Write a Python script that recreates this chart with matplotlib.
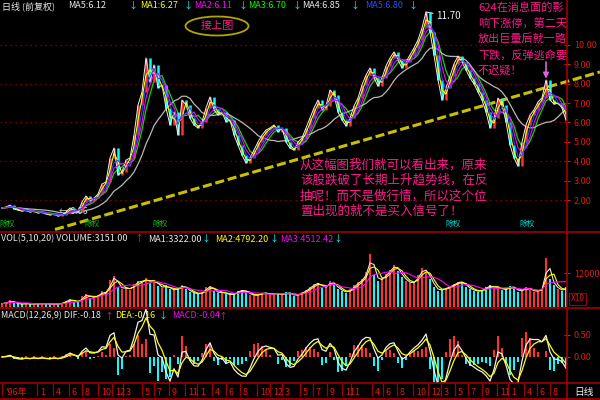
import numpy as np
import pandas as pd
import matplotlib
matplotlib.use("Agg")
import matplotlib.pyplot as plt
from matplotlib.patches import Ellipse
from matplotlib.lines import Line2D

plt.rcParams['font.family'] = ['Noto Sans CJK SC', 'DejaVu Sans']
plt.rcParams['axes.unicode_minus'] = False

# ---- data ----
close = [1.59, 1.64, 1.74, 1.54, 1.48, 1.43, 1.48, 1.38, 1.43, 1.33,
         1.38, 1.28, 1.23, 1.28, 1.17, 1.23, 1.38, 1.59, 1.48, 1.38,
         1.90, 2.21, 1.95, 2.10, 2.31, 2.83, 2.93, 4.17, 4.68, 3.29,
         3.45, 4.06, 4.17, 5.35, 6.90, 7.57, 9.33, 8.09, 8.97, 7.78,
         7.94, 6.75, 5.87, 6.54, 5.35, 7.16, 6.90, 6.23, 5.87, 5.72,
         6.03, 6.75, 7.32, 6.65, 6.39, 6.54, 6.03, 6.13, 5.35, 4.84,
         4.32, 3.91, 4.17, 4.58, 4.99, 5.35, 5.61, 5.72, 5.87, 5.51,
         5.72, 4.99, 4.68, 4.58, 4.99, 5.20, 5.72, 6.23, 6.75, 7.16,
         6.65, 6.85, 7.68, 7.42, 6.54, 6.13, 5.82, 6.23,
         6.85, 7.26, 7.94, 8.45, 8.81, 8.30, 7.88, 8.30, 8.92, 9.33,
         9.64, 9.23, 8.81, 9.12, 9.48, 9.85, 10.26, 10.88, 11.70, 10.67,
         9.48, 8.19, 7.16, 7.78, 8.40, 9.02, 9.43, 9.12, 8.71, 8.30,
         7.99, 7.57, 7.16, 6.54, 5.72, 6.23, 7.26, 6.90, 6.03, 4.84,
         4.17, 3.75, 4.99, 5.87, 6.39, 6.65, 7.06, 7.27, 8.19, 7.16,
         6.95, 7.00, 6.75, 6.13]

volume = [1200, 1500, 2400, 1300, 1100, 1000, 1400, 900, 1200, 1000, 1300, 1100, 900, 1200, 1000, 1500, 2200, 2800,
          1800, 1600, 3800, 4500, 3200, 3600, 4200, 5500, 4800,
          9500, 10800, 7200, 6400, 6900, 6100, 8200, 9300, 8800,
          10200, 8400, 9600, 7300, 6800, 7600, 6200, 5900, 6700, 7800,
          6300, 5400, 4800, 4500, 5200, 6900, 7400, 5600, 4900, 5300, 4600,
          4200, 4800, 5600, 6100, 5200, 4400, 3900, 4500, 5100, 4800, 4300, 5000, 4600, 4100, 5300, 4700, 3900, 4400, 5200,
          6000, 7200, 8100, 8600, 6700, 7300, 9200, 7800, 6400, 5600, 5100, 6200, 7600, 8800, 9800,
          12500, 18600, 11400, 9200, 10100, 11800, 13200, 14900, 12800,
          10600, 9200, 8300, 8900, 11200, 13600, 12400, 9800, 6900, 5800, 6200,
          6800, 7400, 8100, 9000, 8700, 7200, 6300, 5800, 5400, 6100, 6900,
          7800, 6600, 7100, 5900, 6400, 7300, 6800, 5200, 6300, 6900, 6100, 5400, 5800, 6500,
          17400, 9800, 7600, 6200, 5800, 6900]

trend_idx = [13.25, 149.5]
trend_price = [0.48, 8.61]

price_ticks = [2, 3, 4, 5, 6, 7, 8, 9, 10]
grid_prices = [2, 4, 6, 8, 10]
vol_ticks = [12000]
macd_ticks = [0.0, 0.5]

month_labels = ["'96年", '1', '4', '6', '8', '10', '12', '3', '5', '7', '9', '11',
                '1', '4', '6', '8', '10', '12', '3', '5', '7', '9', '11',
                '1', '4', '6', '8', '10', '12', '3', '5', '7', '9', '11',
                '1', '4', '6', '8']
month_pos = [0, 8.75, 12.75, 16.75, 20, 24, 27.5, 30.25, 35, 38, 41.75, 45.75,
             48.75, 52.5, 56, 59.5, 63.75, 67, 70, 74.5, 77.75, 81.25, 85,
             87.25, 92.5, 95.25, 98.75, 102.75, 106.5, 109.75, 113.25, 116.5, 120, 123.75,
             126.5, 130.5, 133.75, 137]

event_idx = [1.25, 22.5, 39.5, 112.75, 131.25]
event_colors = ['#10c010', '#10c010', '#10c010', '#00d8d8', '#00d8d8']

ma_windows = [2, 4, 5, 12, 3]
ma_colors = ['#ffff00', '#ff00ff', '#00e000', '#b8b8b8', '#2848ff']
vol_ma_windows = [2, 3, 6]
vol_ma_colors = ['#e8e8e8', '#ffff00', '#ff00ff']

arrow_idx = 136
low_label = '6.06'

price_header = [(2, '日线 (前复权)', '#e8e8e8'), (68, 'MA5:6.12', '#e8e8e8'), (129, '↓', '#00ffff'),
                (140, 'MA1:6.27', '#ffff00'), (184, '↓', '#00ffff'),
                (194, 'MA2:6.11', '#ff00ff'), (239, '↓', '#00ffff'),
                (248, 'MA3:6.70', '#00ff00'), (293, '↓', '#00ffff'),
                (302, 'MA4:6.85', '#e8e8e8'), (351, '↓', '#00ffff'),
                (365, 'MA5:6.80', '#2a4bff'), (409, '↓', '#00ffff')]
vol_header = [(1, 'VOL(5,10,20) VOLUME:3151.00', '#e8e8e8'), (135, '↑', '#ff2020'),
              (148, 'MA1:3322.00', '#e8e8e8'), (202, '↓', '#00ffff'),
              (215, 'MA2:4792.20', '#ffff00'), (270, '↓', '#00ffff'),
              (280, 'MA3:4512.42', '#ff00ff'), (334, '↓', '#00ffff')]
macd_header = [(1, 'MACD(12,26,9) DIF:-0.18', '#e8e8e8'), (105, '↑', '#ff2020'),
               (115, 'DEA:-0.16', '#ffff00'), (159, '↓', '#00ffff'),
               (172, 'MACD:-0.04', '#ff00ff'), (219, '↑', '#ff2020')]

note_mid = ['从这幅图我们就可以看出来，原来',
            '该股跌破了长期上升趋势线，在反',
            '抽呢！而不是做行情，所以这个位',
            '置出现的就不是买入信号了！']
note_top = ['624在消息面的影',
            '响下涨停，第二天',
            '放出巨量后就一路',
            '下跌，反弹逃命要',
            '不迟疑！']

# ---- layout ----
W, H = 600, 400
BG = '#000000'
LINE_RED = '#a00000'
TXT_RED = '#e01818'
PINK = '#ff1a8c'


def rect(x0, y0, x1, y1):
    return [x0 / W, 1 - y1 / H, (x1 - x0) / W, (y1 - y0) / H]


fig = plt.figure(figsize=(6, 4), dpi=100, facecolor=BG)
ax_p = fig.add_axes(rect(0, 0, 567, 232))
ax_v = fig.add_axes(rect(0, 232, 567, 308))
ax_m = fig.add_axes(rect(0, 308, 567, 383))

n = len(close)
x = np.arange(n)
s = pd.Series(close)
opens = s.shift(1).fillna(s.iloc[0])
up = (s >= opens).values

for ax in (ax_p, ax_v, ax_m):
    ax.set_facecolor(BG)
    ax.set_xlim(-0.5, 141.25)
    for sp in ax.spines.values():
        sp.set_visible(False)
    ax.yaxis.tick_right()
    ax.tick_params(axis='y', colors=TXT_RED, labelsize=6.5, length=4,
                   direction='inout', pad=3)

# ---- price panel ----
ax_p.set_ylim(0.35, 12.32)
ax_p.hlines(grid_prices, -0.5, 141.25, colors=LINE_RED, linestyles=(0, (1, 3)), lw=0.9)
ax_p.plot(trend_idx, trend_price, color='#c8c000', lw=2.2, ls=(0, (3, 1.2)),
          clip_on=False, zorder=2)

for w, c in zip(ma_windows[2:4], ma_colors[2:4]):
    ax_p.plot(x, s.rolling(w, min_periods=1).mean(), color=c, lw=0.9, zorder=3)

ax_p.vlines(x[up], opens[up], s[up], color='#ff3030', lw=1.8, zorder=4)
ax_p.vlines(x[~up], opens[~up], s[~up], color='#00ffff', lw=1.8, zorder=4)
ax_p.plot(x, close, color='#f0f0f0', lw=0.7, zorder=5)
for w, c in zip(ma_windows[:2] + ma_windows[4:], ma_colors[:2] + ma_colors[4:]):
    ax_p.plot(x, s.rolling(w, min_periods=1).mean(), color=c, lw=0.8, zorder=5)

ax_p.set_yticks(price_ticks)
ax_p.set_yticklabels([f'{t:.2f}' for t in price_ticks])
ax_p.set_xticks([])

i_max = int(np.argmax(close))
ax_p.annotate(f'{close[i_max]:.2f}', xy=(i_max, close[i_max]), xytext=(7, -3),
              textcoords='offset points', color='#f0f0f0', fontsize=7,
              ha='left', va='center',
              arrowprops=dict(arrowstyle='-', color='#f0f0f0', lw=0.8,
                              shrinkA=0, shrinkB=0))
i_min = int(np.argmin(close))
ax_p.annotate('← ' + low_label, xy=(i_min, close[i_min]), xytext=(1, 3),
              textcoords='offset points', color='#d8d8d8', fontsize=6.5,
              ha='left', va='center')

ax_p.annotate('', xy=(arrow_idx, close[arrow_idx]), xytext=(0, 13),
              textcoords='offset points',
              arrowprops=dict(arrowstyle='-|>', color='#e060e0', lw=1.2,
                              mutation_scale=8, shrinkA=0, shrinkB=1))

for ei, ec in zip(event_idx, event_colors):
    ax_p.text(ei, 0.035, '除权', color=ec, fontsize=5.5, ha='center', va='center',
              transform=ax_p.get_xaxis_transform())

ax_p.add_patch(Ellipse((217 / 567, 1 - 26 / 232), 63 / 567, 19 / 232,
                       transform=ax_p.transAxes, fill=False, ec='#b4a400', lw=1.3))
ax_p.text(217 / 567, 1 - 26 / 232, '接上图', color=PINK, fontsize=8,
          ha='center', va='center', transform=ax_p.transAxes)

# ---- volume panel ----
v = pd.Series(volume)
ax_v.set_ylim(-350, 26470)
ax_v.bar(x[up], v[up], width=0.7, color='#ff3030')
ax_v.bar(x[~up], v[~up], width=0.7, color='#00ffff')
for w, c in zip(vol_ma_windows, vol_ma_colors):
    ax_v.plot(x, v.rolling(w, min_periods=1).mean(), color=c, lw=0.8)
ax_v.set_yticks(vol_ticks)
ax_v.set_yticklabels([str(t) for t in vol_ticks])
ax_v.set_xticks([])
ax_v.text(1.006, 0.12, 'X10', transform=ax_v.transAxes, color=TXT_RED, fontsize=6,
          ha='left', va='center',
          bbox=dict(boxstyle='square,pad=0.15', fc=BG, ec=LINE_RED, lw=0.8))

# ---- MACD panel ----
dif = s.ewm(span=2, adjust=False).mean() - s.ewm(span=4, adjust=False).mean()
dea = dif.ewm(span=3, adjust=False).mean()
hist = 2 * (dif - dea)
ax_m.set_ylim(-0.59, 1.11)
ax_m.bar(x, hist, width=0.6, color=np.where(hist >= 0, '#ff3030', '#00ffff'))
ax_m.plot(x, dif, color='#f0f0f0', lw=0.9)
ax_m.plot(x, dea, color='#ffff00', lw=0.9)
ax_m.set_yticks(macd_ticks)
ax_m.set_yticklabels([f'{t:.2f}' for t in macd_ticks])
ax_m.set_xticks(month_pos)
ax_m.set_xticklabels([])
ax_m.tick_params(axis='x', colors=LINE_RED, length=9, width=0.9, direction='out')
for p, lab in zip(month_pos, month_labels):
    ax_m.annotate(lab, xy=(p, 0), xycoords=('data', 'axes fraction'),
                  xytext=(2, -6.5), textcoords='offset points', ha='left',
                  va='center', color=TXT_RED, fontsize=6.5, annotation_clip=False)

# ---- frame lines ----
for yy in (232, 308, 383, 399):
    fig.add_artist(Line2D([0, 1], [1 - yy / H] * 2, color=LINE_RED, lw=1.2,
                          transform=fig.transFigure))
fig.add_artist(Line2D([567 / W] * 2, [0, 1], color=LINE_RED, lw=1.2,
                      transform=fig.transFigure))
fig.text(584 / W, 1 - 392 / H, '日线', color='#f0f0f0', fontsize=7,
         ha='center', va='center')

# ---- header texts ----
for yy, pieces in ((6, price_header), (239, vol_header), (316, macd_header)):
    for xp, txt, col in pieces:
        fig.text(xp / W, 1 - yy / H, txt, color=col, fontsize=6.5,
                 ha='left', va='center')

# ---- pink notes ----
for k, line in enumerate(note_mid):
    fig.text(300 / W, 1 - (165 + 15.5 * k) / H, line, color=PINK, fontsize=9,
             ha='left', va='center')
for k, line in enumerate(note_top):
    fig.text(478 / W, 1 - (7 + 16 * k) / H, line, color=PINK, fontsize=8,
             ha='left', va='center')

fig.savefig('out.png', dpi=100, facecolor=BG)
